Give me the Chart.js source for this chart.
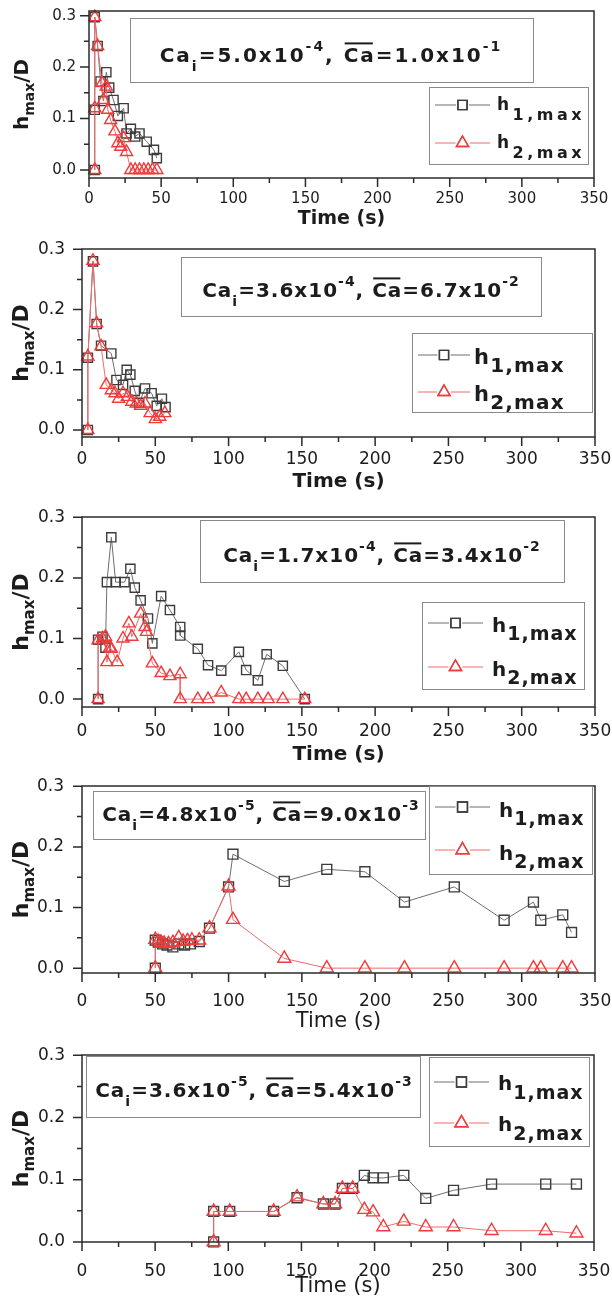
<!DOCTYPE html>
<html>
<head>
<meta charset="utf-8">
<title>h_max/D versus time</title>
<script src="https://cdn.jsdelivr.net/npm/chart.js@4.4.1/dist/chart.umd.min.js"></script>
<style>
  html, body { margin: 0; padding: 0; background: #ffffff; }
  body { width: 612px; height: 1305px; position: relative; overflow: hidden; }
  canvas { position: absolute; left: 0; }
</style>
</head>
<body>
<canvas id="panel1"></canvas>
<canvas id="panel2"></canvas>
<canvas id="panel3"></canvas>
<canvas id="panel4"></canvas>
<canvas id="panel5"></canvas>
<script>
// ---- axis ticks shared by all panels ----
const timeTicks = [0, 50, 100, 150, 200, 250, 300, 350];
const hTicks = [0.0, 0.1, 0.2, 0.3];

// ---- capillary numbers shown in each panel's caption ----
const caInitial    = ['5.0', '3.6', '1.7', '4.8', '3.6'];
const caInitialExp = ['-4', '-4', '-4', '-5', '-5'];
const caMean       = ['1.0', '6.7', '3.4', '9.0', '5.4'];
const caMeanExp    = ['-1', '-2', '-2', '-3', '-3'];

// ---- series names ----
const seriesBase = ['h', 'h'];
const seriesSub  = ['1,max', '2,max'];

// ---- panel 1 ----
const p1TimeH1 = [4, 4, 4, 6, 8, 10, 12, 14, 17, 20, 24, 26, 29, 32, 35, 40, 45, 47];
const p1H1     = [0, 0.117, 0.297, 0.241, 0.172, 0.134, 0.19, 0.16, 0.136, 0.105, 0.12, 0.071, 0.08, 0.065, 0.071, 0.055, 0.039, 0.023];
const p1TimeH2 = [4, 4, 4, 6, 9, 10, 12, 13, 15, 18, 20, 22, 24, 26, 29, 32, 35, 38, 41, 44, 47];
const p1H2     = [0, 0.12, 0.297, 0.241, 0.169, 0.136, 0.162, 0.117, 0.097, 0.075, 0.052, 0.045, 0.062, 0.035, 0, 0, 0, 0, 0, 0, 0];

// ---- panel 2 ----
const p2TimeH1 = [4, 4, 7.5, 10, 13, 20, 23.5, 28, 30.5, 33, 36, 39, 43, 47.5, 51, 54.5, 57];
const p2H1     = [0, 0.12, 0.28, 0.176, 0.14, 0.127, 0.083, 0.075, 0.1, 0.092, 0.065, 0.045, 0.069, 0.061, 0.04, 0.052, 0.038];
const p2TimeH2 = [4, 4, 7.5, 10, 13, 16.5, 20, 22.5, 25, 28, 31, 34, 37, 40, 43, 46.5, 50, 53, 56.5];
const p2H2     = [0, 0.122, 0.281, 0.177, 0.139, 0.075, 0.066, 0.061, 0.052, 0.061, 0.055, 0.047, 0.044, 0.04, 0.044, 0.028, 0.018, 0.022, 0.028];

// ---- panel 3 ----
const p3TimeH1 = [11, 11, 14, 16, 17, 20, 23, 29, 33, 36, 40, 45, 48, 54, 60, 67, 67, 79, 86, 95, 107, 112, 120, 126, 137, 152];
const p3H1     = [0, 0.098, 0.103, 0.085, 0.193, 0.267, 0.193, 0.193, 0.215, 0.184, 0.163, 0.133, 0.092, 0.17, 0.147, 0.119, 0.105, 0.083, 0.056, 0.047, 0.078, 0.048, 0.031, 0.074, 0.055, 0];
const p3TimeH2 = [11, 11, 14, 16, 17, 19, 20, 24, 28, 32, 34, 40, 43, 44, 48, 54, 60, 67, 67, 79, 86, 95, 107, 112, 120, 127, 137, 152];
const p3H2     = [0, 0.097, 0.1, 0.103, 0.061, 0.085, 0.083, 0.061, 0.1, 0.125, 0.103, 0.141, 0.119, 0.111, 0.059, 0.043, 0.038, 0.041, 0, 0, 0, 0.011, 0, 0, 0, 0, 0, 0];

// ---- panel 4 ----
const p4TimeH1 = [50, 50, 52, 55, 58, 62, 66, 70, 74, 80, 87, 100, 103, 138, 167, 193, 220, 254, 288, 308, 313, 328, 334];
const p4H1     = [0, 0.046, 0.043, 0.04, 0.038, 0.035, 0.04, 0.038, 0.04, 0.044, 0.066, 0.134, 0.188, 0.143, 0.163, 0.159, 0.109, 0.134, 0.079, 0.109, 0.079, 0.088, 0.059];
const p4TimeH2 = [50, 50, 52, 54, 56, 59, 62, 66, 69, 72, 75, 80, 87, 100, 103, 138, 167, 193, 220, 254, 288, 308, 313, 328, 334];
const p4H2     = [0, 0.047, 0.044, 0.042, 0.041, 0.04, 0.042, 0.05, 0.044, 0.045, 0.046, 0.046, 0.066, 0.135, 0.08, 0.016, 0, 0, 0, 0, 0, 0, 0, 0, 0];

// ---- panel 5 ----
const p5Time = [90, 90, 101, 131, 147, 165, 173, 178, 185, 193, 199, 206, 220, 235, 254, 280, 317, 338];
const p5H1   = [0, 0.049, 0.049, 0.049, 0.071, 0.061, 0.061, 0.086, 0.086, 0.107, 0.103, 0.103, 0.107, 0.07, 0.083, 0.093, 0.093, 0.093];
const p5H2   = [0, 0.049, 0.049, 0.049, 0.072, 0.061, 0.061, 0.086, 0.086, 0.052, 0.048, 0.024, 0.033, 0.024, 0.024, 0.018, 0.018, 0.014];

// ---- styling ----
const FONT = '"DejaVu Sans", "Liberation Sans", Arial, sans-serif';
const AXIS = '#2b2b2b';
const TEXT = '#1c1c1c';
const H1_LINE = '#6e6e6e';
const H1_MARK = '#3c3c3c';
const H2_LINE = '#f26a6a';
const H2_MARK = '#ee3b3b';
const BOX = '#8a8a8a';

const panels = [
  { id: 'panel1', top: 0, height: 238, area: [89, 11, 594, 178], ymin: -0.0156, ymax: 0.309,
    t1: p1TimeH1, h1: p1H1, t2: p1TimeH2, h2: p1H2,
    tickSize: 15, xPad: 12, yPad: 13,
    yTitle: { x: 28, size: 20, small: 14, subDy: 6 },
    xTitle: { y: 219, size: 19, bold: true },
    box: [130, 18, 533, 82], note: { x: 331, y: 62, size: 20, small: 14, spacing: 2, subDy: 9, supDy: 11 },
    legend: { box: [429, 87, 588, 164], line: [435, 490], rows: [105, 143], tx: 497, size: 17, small: 16, spacing: 3.5, hDy: 5, subDy: 10 },
    sq: 6.5, tri: 7 },
  { id: 'panel2', top: 240, height: 262, area: [82, 249, 595, 437], ymin: -0.0116, ymax: 0.3005,
    t1: p2TimeH1, h1: p2H1, t2: p2TimeH2, h2: p2H2,
    tickSize: 17, xPad: 12, yPad: 17,
    yTitle: { x: 28, size: 22, small: 15, subDy: 6 },
    xTitle: { y: 482, size: 20, bold: true },
    box: [181, 257, 541, 316], note: { x: 361, y: 297, size: 20, small: 14, spacing: 1, subDy: 9, supDy: 11 },
    legend: { box: [412, 333, 592, 412], line: [418, 470], rows: [355, 392], tx: 474, size: 21, small: 20, spacing: 1.2, hDy: 9, subDy: 8 },
    sq: 6.5, tri: 7 },
  { id: 'panel3', top: 502, height: 268, area: [82, 517, 595, 707], ymin: -0.013, ymax: 0.3005,
    t1: p3TimeH1, h1: p3H1, t2: p3TimeH2, h2: p3H2,
    tickSize: 17, xPad: 14, yPad: 17,
    yTitle: { x: 28, size: 22, small: 15, subDy: 6 },
    xTitle: { y: 755, size: 20, bold: true },
    box: [200, 520, 564, 582], note: { x: 382, y: 562, size: 20, small: 14, spacing: 1, subDy: 9, supDy: 11 },
    legend: { box: [422, 602, 584, 689], line: [428, 483], rows: [623, 667], tx: 492, size: 20, small: 19, spacing: 1, hDy: 9, subDy: 8 },
    sq: 6.5, tri: 7 },
  { id: 'panel4', top: 770, height: 270, area: [82, 786, 595, 973], ymin: -0.008, ymax: 0.3005,
    t1: p4TimeH1, h1: p4H1, t2: p4TimeH2, h2: p4H2,
    tickSize: 17, xPad: 18, yPad: 18,
    yTitle: { x: 28, size: 22, small: 15, subDy: 6 },
    xTitle: { y: 1022, size: 21, bold: false },
    box: [93, 791, 425, 839], note: { x: 261, y: 821, size: 20, small: 14, spacing: 1, subDy: 9, supDy: 11 },
    legend: { box: [429, 786, 592, 874], line: [435, 490], rows: [807, 850], tx: 499, size: 20, small: 19, spacing: 1, hDy: 10, subDy: 8 },
    sq: 7, tri: 7.5 },
  { id: 'panel5', top: 1040, height: 265, area: [82, 1055, 594, 1242], ymin: -0.0001, ymax: 0.3005,
    t1: p5Time, h1: p5H1, t2: p5Time, h2: p5H2,
    tickSize: 17, xPad: 19, yPad: 17,
    yTitle: { x: 28, size: 22, small: 15, subDy: 6 },
    xTitle: { y: 1287, size: 21, bold: false },
    box: [86, 1056, 420, 1117], note: { x: 254, y: 1097, size: 20, small: 14, spacing: 1, subDy: 9, supDy: 11 },
    legend: { box: [429, 1057, 589, 1146], line: [434, 489], rows: [1082, 1123], tx: 498, size: 20, small: 19, spacing: 1, hDy: 8, subDy: 9 },
    sq: 7, tri: 7.5 }
];

function toPoints(times, values) {
  return times.map((t, i) => ({ x: t, y: values[i] }));
}

// Draws a run of text pieces (plain, subscript, superscript, overlined) on one baseline.
function drawRich(ctx, parts, x, y, o) {
  const weight = o.bold === false ? '' : 'bold ';
  const spacing = (o.spacing || 0) + 'px';
  const items = parts.map(part => {
    const size = (part.sub || part.sup) ? o.small : o.size;
    const font = weight + size + 'px ' + FONT;
    ctx.font = font;
    ctx.letterSpacing = spacing;
    return { part, font, w: ctx.measureText(part.t).width };
  });
  const total = items.reduce((s, it) => s + it.w, 0);
  let cx = o.align === 'center' ? x - total / 2 : x;
  ctx.textAlign = 'left';
  ctx.textBaseline = 'alphabetic';
  ctx.fillStyle = o.color || TEXT;
  for (const it of items) {
    ctx.font = it.font;
    ctx.letterSpacing = spacing;
    const dy = it.part.sub ? (o.subDy || 0) : it.part.sup ? -(o.supDy || 0) : 0;
    ctx.fillText(it.part.t, cx, y + dy);
    if (it.part.over) {
      const oy = y - o.size * 0.73 - 4;
      ctx.save();
      ctx.strokeStyle = o.color || TEXT;
      ctx.lineWidth = 2;
      ctx.beginPath();
      ctx.moveTo(cx + 1, oy);
      ctx.lineTo(cx + it.w - (o.spacing || 0) - 1, oy);
      ctx.stroke();
      ctx.restore();
    }
    cx += it.w;
  }
  ctx.letterSpacing = '0px';
}

function decorations(p, k) {
  return {
    id: 'panelDecorations',
    afterDraw(chart) {
      const ctx = chart.ctx;
      const a = chart.chartArea;
      const xs = chart.scales.x;
      const ys = chart.scales.y;
      const T = p.top;
      ctx.save();

      // outward major and minor tick marks
      ctx.strokeStyle = AXIS;
      ctx.lineWidth = 1.5;
      ctx.beginPath();
      timeTicks.forEach((v, i) => {
        const px = xs.getPixelForValue(v);
        ctx.moveTo(px, a.bottom); ctx.lineTo(px, a.bottom + 9);
        if (i < timeTicks.length - 1) {
          const mx = xs.getPixelForValue((v + timeTicks[i + 1]) / 2);
          ctx.moveTo(mx, a.bottom); ctx.lineTo(mx, a.bottom + 5);
        }
      });
      hTicks.forEach((v, i) => {
        const py = ys.getPixelForValue(v);
        ctx.moveTo(a.left, py); ctx.lineTo(a.left - 9, py);
        if (i < hTicks.length - 1) {
          const my = ys.getPixelForValue((v + hTicks[i + 1]) / 2);
          ctx.moveTo(a.left, my); ctx.lineTo(a.left - 5, my);
        }
      });
      ctx.stroke();

      // plot frame
      ctx.strokeRect(a.left, a.top, a.right - a.left, a.bottom - a.top);

      // y title: h_max/D
      ctx.save();
      ctx.translate(p.yTitle.x, (a.top + a.bottom) / 2);
      ctx.rotate(-Math.PI / 2);
      drawRich(ctx, [{ t: 'h' }, { t: 'max', sub: true }, { t: '/D' }], 0, 0,
        { size: p.yTitle.size, small: p.yTitle.small, subDy: p.yTitle.subDy, align: 'center' });
      ctx.restore();

      // x title
      ctx.font = (p.xTitle.bold ? 'bold ' : '') + p.xTitle.size + 'px ' + FONT;
      ctx.fillStyle = TEXT;
      ctx.textAlign = 'center';
      ctx.textBaseline = 'middle';
      ctx.fillText('Time (s)', (a.left + a.right) / 2, p.xTitle.y - T);

      // caption box with capillary numbers
      const b = p.box;
      ctx.fillStyle = '#ffffff';
      ctx.fillRect(b[0], b[1] - T, b[2] - b[0], b[3] - b[1]);
      ctx.strokeStyle = BOX;
      ctx.lineWidth = 1;
      ctx.strokeRect(b[0] + 0.5, b[1] - T + 0.5, b[2] - b[0], b[3] - b[1]);
      drawRich(ctx, [
        { t: 'Ca' }, { t: 'i', sub: true }, { t: '=' + caInitial[k] + 'x10' }, { t: caInitialExp[k], sup: true },
        { t: ', ' }, { t: 'Ca', over: true }, { t: '=' + caMean[k] + 'x10' }, { t: caMeanExp[k], sup: true }
      ], p.note.x, p.note.y - T, Object.assign({ align: 'center' }, p.note));

      // legend
      const L = p.legend;
      ctx.fillStyle = '#ffffff';
      ctx.fillRect(L.box[0], L.box[1] - T, L.box[2] - L.box[0], L.box[3] - L.box[1]);
      ctx.strokeStyle = BOX;
      ctx.lineWidth = 1;
      ctx.strokeRect(L.box[0] + 0.5, L.box[1] - T + 0.5, L.box[2] - L.box[0], L.box[3] - L.box[1]);
      const sets = chart.data.datasets;
      L.rows.forEach((ry, i) => {
        const ds = sets[i];
        const y = ry - T;
        ctx.strokeStyle = ds.borderColor;
        ctx.lineWidth = ds.borderWidth;
        ctx.beginPath();
        ctx.moveTo(L.line[0], y); ctx.lineTo(L.line[1], y);
        ctx.stroke();
        const mx = (L.line[0] + L.line[1]) / 2;
        ctx.fillStyle = '#ffffff';
        ctx.fillRect(mx - ds.pointRadius, y - ds.pointRadius, ds.pointRadius * 2, ds.pointRadius * 1.6);
        ctx.strokeStyle = ds.pointBorderColor;
        ctx.lineWidth = ds.pointBorderWidth;
        Chart.helpers.drawPoint(ctx, { pointStyle: ds.pointStyle, radius: ds.pointRadius, borderWidth: ds.pointBorderWidth, rotation: 0 }, mx, y);
        ctx.stroke();
        drawRich(ctx, [{ t: seriesBase[i] }, { t: seriesSub[i], sub: true }], L.tx, y + L.hDy,
          { size: L.size, small: L.small, spacing: L.spacing, subDy: L.subDy });
      });

      ctx.restore();
    }
  };
}

panels.forEach((p, k) => {
  const canvas = document.getElementById(p.id);
  canvas.width = 612;
  canvas.height = p.height;
  canvas.style.top = p.top + 'px';
  canvas.style.width = '612px';
  canvas.style.height = p.height + 'px';
  const areaTop = p.area[1] - p.top;
  const areaBottom = p.area[3] - p.top;

  new Chart(canvas, {
    type: 'scatter',
    data: {
      datasets: [
        {
          label: 'h1,max',
          data: toPoints(p.t1, p.h1),
          showLine: true,
          borderColor: H1_LINE,
          borderWidth: 1,
          pointStyle: 'rect',
          pointRadius: p.sq,
          pointBorderColor: H1_MARK,
          pointBorderWidth: 1.4,
          pointBackgroundColor: 'rgba(255,255,255,0)',
          clip: false,
          order: 1
        },
        {
          label: 'h2,max',
          data: toPoints(p.t2, p.h2),
          showLine: true,
          borderColor: H2_LINE,
          borderWidth: 1,
          pointStyle: 'triangle',
          pointRadius: p.tri,
          pointBorderColor: H2_MARK,
          pointBorderWidth: 1.4,
          pointBackgroundColor: 'rgba(255,255,255,0)',
          clip: false,
          order: 0
        }
      ]
    },
    options: {
      responsive: false,
      animation: false,
      events: [],
      layout: { padding: { left: 0, top: areaTop, right: 612 - p.area[2], bottom: 0 } },
      plugins: { legend: { display: false }, tooltip: { enabled: false } },
      scales: {
        x: {
          type: 'linear',
          position: 'bottom',
          min: timeTicks[0],
          max: timeTicks[timeTicks.length - 1],
          afterBuildTicks(scale) { scale.ticks = timeTicks.map(v => ({ value: v })); },
          afterFit(scale) { scale.height = p.height - areaBottom; scale.paddingLeft = 0; scale.paddingRight = 0; },
          grid: { display: false, drawTicks: false },
          border: { display: false },
          ticks: {
            autoSkip: false, maxRotation: 0, padding: p.xPad, color: TEXT,
            font: { family: FONT, size: p.tickSize },
            callback: v => String(v)
          }
        },
        y: {
          type: 'linear',
          position: 'left',
          min: p.ymin,
          max: p.ymax,
          afterBuildTicks(scale) { scale.ticks = hTicks.map(v => ({ value: v })); },
          afterFit(scale) { scale.width = p.area[0]; scale.paddingTop = 0; scale.paddingBottom = 0; },
          grid: { display: false, drawTicks: false },
          border: { display: false },
          ticks: {
            padding: p.yPad, color: TEXT,
            font: { family: FONT, size: p.tickSize },
            callback: v => Number(v).toFixed(1)
          }
        }
      }
    },
    plugins: [decorations(p, k)]
  });
});
</script>
</body>
</html>
